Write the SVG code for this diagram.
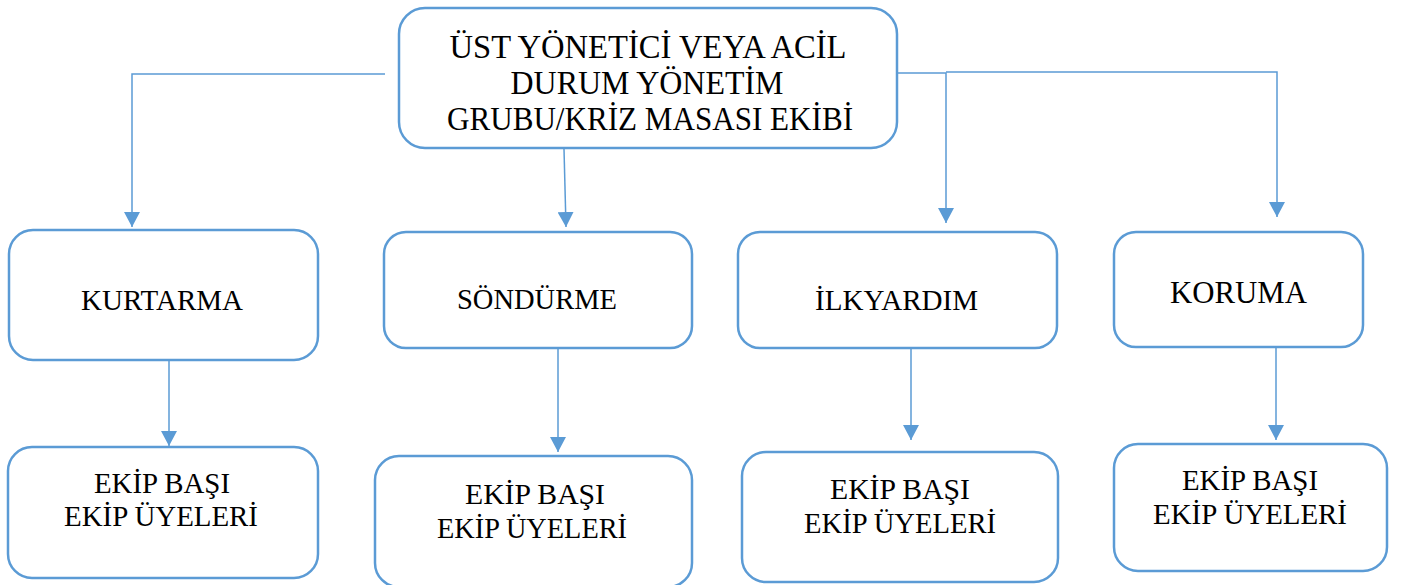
<svg xmlns="http://www.w3.org/2000/svg" width="1407" height="585" viewBox="0 0 1407 585">
<style>
.box{fill:#fff;stroke:#5B9BD5;stroke-width:2.5}
.t{font-family:"Liberation Serif","Times New Roman",serif;fill:#000;text-anchor:middle}
.c{fill:none;stroke:#5B9BD5;stroke-width:1.5}
</style>
<defs>
<marker id="ah" markerUnits="userSpaceOnUse" markerWidth="16" markerHeight="16" viewBox="0 0 16 16" refX="15" refY="8" orient="auto">
<path d="M0,0 L15,8 L0,16 z" fill="#5B9BD5"/>
</marker>
</defs>
<rect width="1407" height="585" fill="#fff"/>
<g id="connectors">
<path class="c" d="M385,74 H132 V227" marker-end="url(#ah)"/>
<path class="c" d="M564,149 L566,227" marker-end="url(#ah)"/>
<path class="c" d="M897,73 H946 V223" marker-end="url(#ah)"/>
<path class="c" d="M946,72 H1277 V217" marker-end="url(#ah)"/>
<path class="c" d="M169,361 V446" marker-end="url(#ah)"/>
<path class="c" d="M558,349 V452" marker-end="url(#ah)"/>
<path class="c" d="M911,349 V440" marker-end="url(#ah)"/>
<path class="c" d="M1276,348 V440" marker-end="url(#ah)"/>
</g>
<g id="top">
<rect class="box" x="399" y="8" width="498" height="140" rx="26"/>
<text class="t" font-size="33"><tspan x="648" y="58" textLength="397" lengthAdjust="spacingAndGlyphs">ÜST YÖNETİCİ VEYA ACİL</tspan><tspan x="647" y="94" textLength="273" lengthAdjust="spacingAndGlyphs">DURUM YÖNETİM</tspan><tspan x="650" y="130" textLength="406" lengthAdjust="spacingAndGlyphs">GRUBU/KRİZ MASASI EKİBİ</tspan></text>
</g>
<g id="kurtarma">
<rect class="box" x="9" y="230" width="309" height="130" rx="24"/>
<text class="t" font-size="30" x="162" y="310" textLength="162" lengthAdjust="spacingAndGlyphs">KURTARMA</text>
</g>
<g id="sondurme">
<rect class="box" x="384" y="232" width="308" height="116" rx="22"/>
<text class="t" font-size="30" x="537" y="309" textLength="160" lengthAdjust="spacingAndGlyphs">SÖNDÜRME</text>
</g>
<g id="ilkyardim">
<rect class="box" x="738" y="232" width="319" height="116" rx="22"/>
<text class="t" font-size="30" x="896.5" y="310" textLength="163" lengthAdjust="spacingAndGlyphs">İLKYARDIM</text>
</g>
<g id="koruma">
<rect class="box" x="1114" y="232" width="249" height="115" rx="22"/>
<text class="t" font-size="32" x="1238.5" y="303" textLength="137" lengthAdjust="spacingAndGlyphs">KORUMA</text>
</g>
<g id="ekip1">
<rect class="box" x="8" y="447" width="310" height="131" rx="24"/>
<text class="t" font-size="30"><tspan x="162" y="493" textLength="136" lengthAdjust="spacingAndGlyphs">EKİP BAŞI</tspan><tspan x="161" y="526" textLength="194" lengthAdjust="spacingAndGlyphs">EKİP ÜYELERİ</tspan></text>
</g>
<g id="ekip2">
<rect class="box" x="375" y="456" width="317" height="131" rx="24"/>
<text class="t" font-size="30"><tspan x="535" y="504" textLength="140" lengthAdjust="spacingAndGlyphs">EKİP BAŞI</tspan><tspan x="532" y="538" textLength="190" lengthAdjust="spacingAndGlyphs">EKİP ÜYELERİ</tspan></text>
</g>
<g id="ekip3">
<rect class="box" x="742" y="452" width="316" height="130" rx="24"/>
<text class="t" font-size="30"><tspan x="900" y="499" textLength="140" lengthAdjust="spacingAndGlyphs">EKİP BAŞI</tspan><tspan x="900" y="533" textLength="192" lengthAdjust="spacingAndGlyphs">EKİP ÜYELERİ</tspan></text>
</g>
<g id="ekip4">
<rect class="box" x="1114" y="444" width="273" height="127" rx="24"/>
<text class="t" font-size="30"><tspan x="1250" y="490" textLength="136" lengthAdjust="spacingAndGlyphs">EKİP BAŞI</tspan><tspan x="1250" y="524" textLength="194" lengthAdjust="spacingAndGlyphs">EKİP ÜYELERİ</tspan></text>
</g>
</svg>
